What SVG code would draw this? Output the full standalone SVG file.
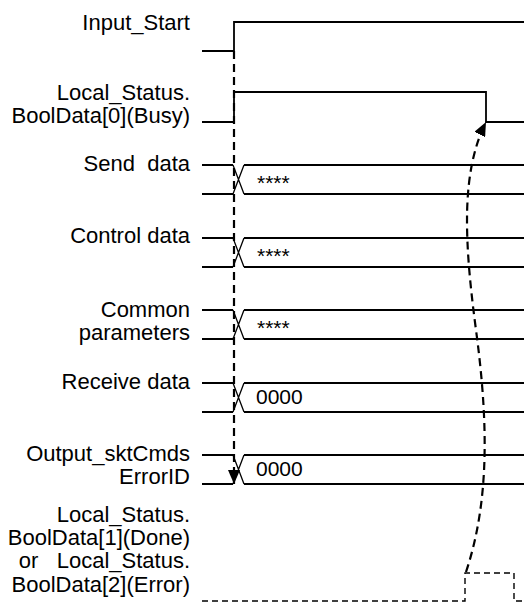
<svg xmlns="http://www.w3.org/2000/svg" width="524" height="604" viewBox="0 0 524 604">
<defs>
<style>
.lbl{font-family:"Liberation Sans",Arial,sans-serif;font-size:22px;fill:#000;text-anchor:end;white-space:pre}
.val{font-family:"Liberation Sans",Arial,sans-serif;font-size:21px;fill:#000}
.sig{fill:none;stroke:#000;stroke-width:1.8}
.x{fill:none;stroke:#000;stroke-width:1.3}
.dash{fill:none;stroke:#000;stroke-width:2.2;stroke-dasharray:8 5}
.dash2{fill:none;stroke:#000;stroke-width:1.4;stroke-dasharray:6 4}
</style>
<marker id="ah" viewBox="0 0 14 12" refX="14" refY="6" markerWidth="14" markerHeight="12" markerUnits="userSpaceOnUse" orient="auto">
<path d="M0,0 L14,6 L0,12 z" fill="#000"/>
</marker>
</defs>
<rect width="524" height="604" fill="#fff"/>

<g id="input-start">
<text class="lbl" x="190" y="30">Input_Start</text>
<path class="sig" d="M202,51 H234 V22 H524"/>
</g>

<g id="busy">
<text class="lbl" x="190" y="100">Local_Status.</text>
<text class="lbl" x="190" y="123">BoolData[0](Busy)</text>
<path class="sig" d="M202,122 H234 V92 H486 V122 H524"/>
</g>

<g id="send-data">
<text class="lbl" x="190" y="171">Send  data</text>
<path class="sig" d="M202,165 H233 M244,165 H524 M202,194 H233 M244,194 H524"/>
<path class="x" d="M233,165 L244,194 M233,194 L244,165"/>
<text class="val" x="257" y="190">****</text>
</g>

<g id="control-data">
<text class="lbl" x="190" y="243">Control data</text>
<path class="sig" d="M202,238 H233 M244,238 H524 M202,267 H233 M244,267 H524"/>
<path class="x" d="M233,238 L244,267 M233,267 L244,238"/>
<text class="val" x="257" y="263">****</text>
</g>

<g id="common-parameters">
<text class="lbl" x="190" y="317">Common</text>
<text class="lbl" x="190" y="340">parameters</text>
<path class="sig" d="M202,310 H233 M244,310 H524 M202,339 H233 M244,339 H524"/>
<path class="x" d="M233,310 L244,339 M233,339 L244,310"/>
<text class="val" x="257" y="335">****</text>
</g>

<g id="receive-data">
<text class="lbl" x="190" y="389">Receive data</text>
<path class="sig" d="M202,383 H233 M244,383 H524 M202,412 H233 M244,412 H524"/>
<path class="x" d="M233,383 L244,412 M233,412 L244,383"/>
<text class="val" x="256" y="404">0000</text>
</g>

<g id="error-id">
<text class="lbl" x="190" y="461">Output_sktCmds</text>
<text class="lbl" x="190" y="484">ErrorID</text>
<path class="sig" d="M202,455 H233 M244,455 H524 M202,484 H233 M244,484 H524"/>
<path class="x" d="M233,455 L244,484 M233,484 L244,455"/>
<text class="val" x="256" y="476">0000</text>
</g>

<g id="done-error">
<text class="lbl" x="190" y="522">Local_Status.</text>
<text class="lbl" x="190" y="545">BoolData[1](Done)</text>
<text class="lbl" x="190" y="568">or   Local_Status.</text>
<text class="lbl" x="190" y="592">BoolData[2](Error)</text>
<path class="dash2" d="M202,601 H465 V573 H514 V601 H524"/>
</g>

<g id="connectors">
<path class="dash" d="M234,51 V484" marker-end="url(#ah)"/>
<path class="dash" d="M466,572 C490,500 488,420 476,330 C464,240 461,172 486,122" marker-end="url(#ah)"/>
</g>
</svg>
